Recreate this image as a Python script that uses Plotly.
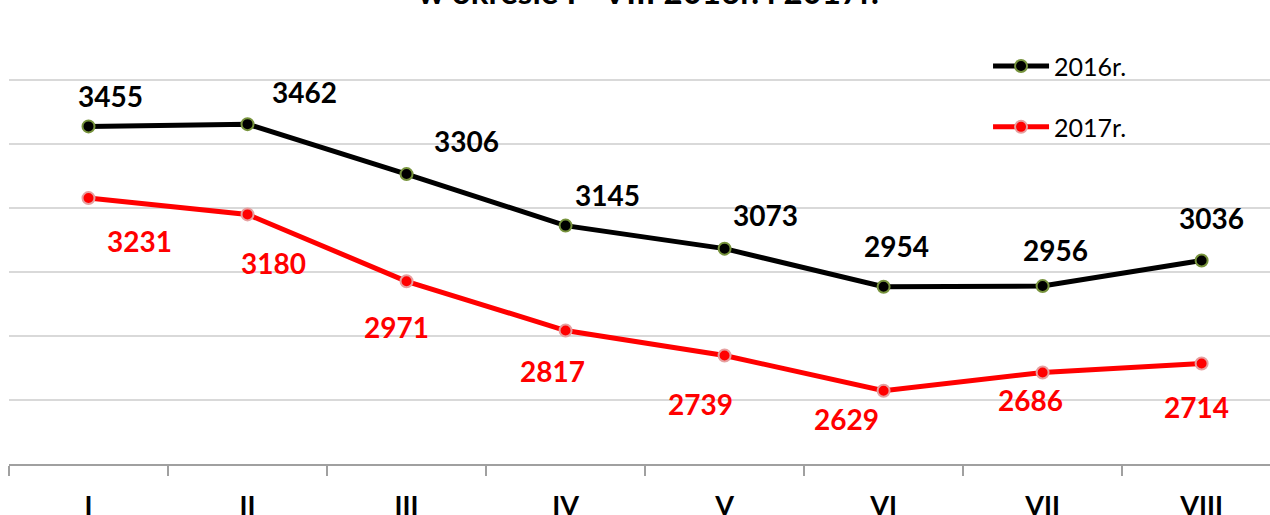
import plotly.graph_objects as go

months = ["I", "II", "III", "IV", "V", "VI", "VII", "VIII"]
v2016 = [3455, 3462, 3306, 3145, 3073, 2954, 2956, 3036]
v2017 = [3231, 3180, 2971, 2817, 2739, 2629, 2686, 2714]

# label offsets (pixels) relative to points
dx2016 = [22, 57, 60, 42, 41, 13, 13, 10]
dy2016 = [30, 32, 33, 31, 34, 41, 36, 42]
dx2017 = [51, 26, -10, -13, -24, -37, -12, -5]
dy2017 = [-43, -49, -46, -40, -48, -28, -28, -43]

FONT = "Lato"

fig = go.Figure()
fig.add_trace(go.Scatter(
    x=months, y=v2016, mode="lines+markers", name="2016r.",
    line=dict(color="black", width=5),
    marker=dict(color="black", size=12, line=dict(color="#77933C", width=2)),
    legend="legend",
))
fig.add_trace(go.Scatter(
    x=months, y=v2017, mode="lines+markers", name="2017r.",
    line=dict(color="#FF0000", width=5),
    marker=dict(color="#FF0000", size=12, line=dict(color="#E6A0A0", width=2)),
    legend="legend2",
))

for m, v, dx, dy in zip(months, v2016, dx2016, dy2016):
    fig.add_annotation(x=m, y=v, text=str(v), showarrow=False, xshift=dx, yshift=dy,
                       font=dict(family=FONT, size=28, color="black", weight="bold"))
for m, v, dx, dy in zip(months, v2017, dx2017, dy2017):
    fig.add_annotation(x=m, y=v, text=str(v), showarrow=False, xshift=dx, yshift=dy,
                       font=dict(family=FONT, size=28, color="#FF0000", weight="bold"))

fig.add_annotation(xref="paper", yref="paper", x=0.5075, y=1.0067, xanchor="center", yanchor="bottom",
                   text="w okresie I - VIII 2016r. i 2017r.", showarrow=False,
                   font=dict(family=FONT, size=33, color="black", weight="bold"))

fig.update_layout(
    width=1270, height=515,
    margin=dict(l=9, r=0, t=16, b=51),
    paper_bgcolor="white", plot_bgcolor="white",
    font=dict(family=FONT),
    legend=dict(x=0.7764, y=0.888, xanchor="left", yanchor="middle", bgcolor="rgba(0,0,0,0)",
                font=dict(family=FONT, size=25, color="black"), itemwidth=56),
    legend2=dict(x=0.7764, y=0.752, xanchor="left", yanchor="middle", bgcolor="rgba(0,0,0,0)",
                 font=dict(family=FONT, size=25, color="black"), itemwidth=56),
    showlegend=True,
)
fig.update_xaxes(
    type="category", range=[-0.5, 7.43], showgrid=False, automargin=False,
    showline=True, linecolor="#A0A0A0", linewidth=2,
    ticks="outside", tickson="boundaries", ticklen=10, tickwidth=2, tickcolor="#A0A0A0",
    tickfont=dict(family=FONT, size=27, color="black", weight="bold"),
    ticklabelstandoff=17,
)
fig.update_yaxes(
    range=[2400, 3800], dtick=200, showgrid=True, gridcolor="#D9D9D9", gridwidth=1.5,
    showticklabels=False, zeroline=False, showline=False, automargin=False,
)

fig.write_html("out.html", config={"displayModeBar": False},
               post_script="document.body.style.margin='0';document.body.style.overflow='hidden';")
